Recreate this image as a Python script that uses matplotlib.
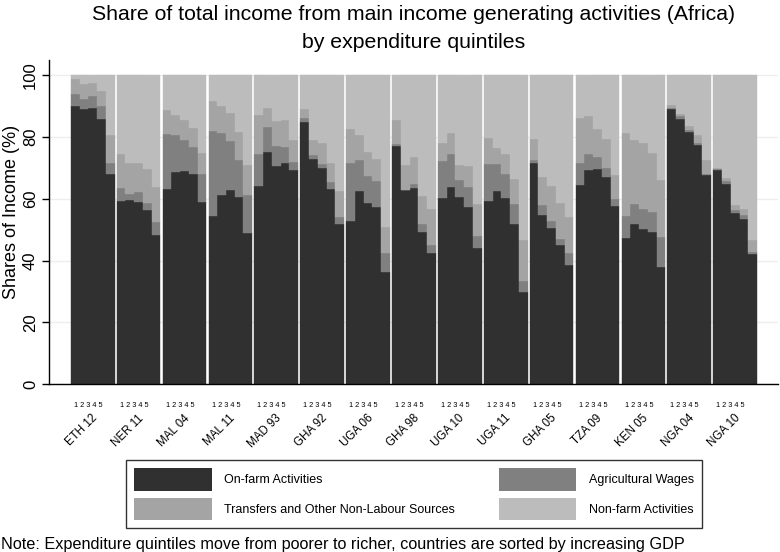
import numpy as np
import matplotlib
matplotlib.use('Agg')
import matplotlib.pyplot as plt
from matplotlib.patches import Patch
from matplotlib.transforms import blended_transform_factory

plt.rcParams['font.family'] = ['Liberation Sans', 'DejaVu Sans']

countries = ['ETH 12', 'NER 11', 'MAL 04', 'MAL 11', 'MAD 93', 'GHA 92', 'UGA 06', 'GHA 98',
             'UGA 10', 'UGA 11', 'GHA 05', 'TZA 09', 'KEN 05', 'NGA 04', 'NGA 10']
quintiles = ['1', '2', '3', '4', '5']

# shares per country, quintiles 1..5
on_farm = [
    [90.0, 89.1, 89.4, 85.9, 67.9],
    [59.3, 59.7, 58.9, 56.4, 48.4],
    [63.3, 68.6, 69.1, 68.2, 59.1],
    [54.5, 61.3, 62.8, 60.6, 48.8],
    [64.3, 75.3, 70.8, 71.5, 69.5],
    [84.9, 72.9, 69.9, 63.3, 51.8],
    [52.9, 62.5, 58.7, 57.2, 36.4],
    [77.0, 62.8, 63.5, 49.3, 42.5],
    [60.3, 63.8, 60.6, 57.2, 44.1],
    [59.3, 62.6, 60.4, 51.8, 29.9],
    [71.7, 54.9, 50.6, 45.0, 38.5],
    [64.4, 69.5, 69.8, 67.1, 57.7],
    [47.4, 51.9, 50.1, 49.3, 37.8],
    [89.0, 86.0, 81.7, 77.6, 67.6],
    [69.3, 64.9, 55.4, 53.6, 42.0],
]
ag_wages = [
    [3.9, 3.3, 3.8, 4.2, 3.6],
    [4.3, 2.0, 3.2, 2.4, 4.0],
    [17.6, 12.0, 9.9, 8.6, 8.8],
    [27.4, 20.0, 15.8, 12.1, 12.6],
    [10.3, 7.9, 6.4, 5.3, 2.6],
    [1.3, 1.3, 1.5, 2.2, 2.2],
    [18.7, 10.2, 8.6, 8.6, 6.1],
    [0.9, 0.2, 1.4, 2.4, 2.4],
    [11.9, 10.6, 5.4, 6.7, 3.8],
    [12.1, 8.8, 7.8, 6.5, 3.5],
    [1.0, 3.0, 2.2, 1.9, 3.8],
    [7.2, 5.1, 3.8, 2.9, 2.1],
    [7.0, 6.4, 6.5, 6.5, 9.9],
    [0.5, 0.7, 0.5, 0.5, 0.6],
    [0.3, 0.9, 0.9, 1.1, 0.8],
]
transfers = [
    [4.8, 4.7, 4.3, 4.7, 9.1],
    [10.8, 9.9, 9.5, 11.0, 11.5],
    [7.8, 6.5, 6.4, 6.3, 7.1],
    [9.8, 8.7, 9.2, 9.0, 9.5],
    [12.5, 6.3, 7.9, 8.6, 6.9],
    [3.0, 5.0, 6.7, 6.2, 8.6],
    [10.9, 7.9, 7.9, 7.2, 8.4],
    [7.8, 7.9, 8.7, 9.2, 11.7],
    [5.9, 6.9, 5.1, 6.7, 10.4],
    [8.4, 5.2, 6.2, 8.2, 13.2],
    [6.6, 9.2, 11.3, 11.6, 11.9],
    [14.7, 12.1, 9.1, 9.3, 7.8],
    [27.0, 20.7, 21.5, 19.1, 18.5],
    [0.8, 0.9, 1.3, 2.5, 4.3],
    [0.4, 1.1, 1.8, 2.1, 3.8],
]

on_farm = np.array(on_farm)
ag_wages = np.array(ag_wages)
transfers = np.array(transfers)
non_farm = 100 - on_farm - ag_wages - transfers

series = [
    ('On-farm Activities', on_farm, '#303030'),
    ('Agricultural Wages', ag_wages, '#808080'),
    ('Transfers and Other Non-Labour Sources', transfers, '#a4a4a4'),
    ('Non-farm Activities', non_farm, '#bcbcbc'),
]

gap = 0.25
n = len(quintiles)
step = n + gap
xs = np.array([[g * step + q for q in range(n)] for g in range(len(countries))])

fig = plt.figure(figsize=(7.8, 5.52), dpi=100)
ax = fig.add_axes([49 / 780, 1 - 384 / 552, 729 / 780, 324 / 552])

bottom = np.zeros_like(on_farm)
for name, vals, col in series:
    ax.bar(xs.ravel(), vals.ravel(), width=1.0, bottom=bottom.ravel(), color=col,
           edgecolor=col, linewidth=0.3, zorder=2)
    bottom = bottom + vals

ax.set_ylim(0, 105)
ax.set_xlim(-3.0, xs[-1, -1] + 0.5 + 2.4)
ax.set_yticks([0, 20, 40, 60, 80, 100])
ax.set_yticklabels(['0', '20', '40', '60', '80', '100'], rotation=90, va='center', fontsize=12)
ax.set_xticks([])
ax.grid(axis='y', color='#eeeeee', linewidth=1, zorder=0)
ax.tick_params(axis='y', direction='out', length=5, width=1, pad=3)
ax.set_ylabel('Shares of Income (%)', fontsize=13)
ax.yaxis.set_label_coords(-0.04, 0.53)
for s in ['top', 'right']:
    ax.spines[s].set_visible(False)
for s in ['left', 'bottom']:
    ax.spines[s].set_linewidth(1)

trans = blended_transform_factory(ax.transData, ax.transAxes)
for g, c in enumerate(countries):
    ax.text(xs[g, 0] - 0.15, -0.065, ' '.join(quintiles), transform=trans,
            ha='left', va='center', fontsize=5.3)
    ax.text(xs[g, 2] + 0.35, -0.1, c, transform=trans, ha='right', va='center',
            rotation=45, rotation_mode='anchor', fontsize=8.3)

fig.text(414 / 780, 1 - 15 / 552, 'Share of total income from main income generating activities (Africa)',
         ha='center', va='center', fontsize=15.3)
fig.text(414 / 780, 1 - 42 / 552, 'by expenditure quintiles', ha='center', va='center', fontsize=15.3)

handles = [Patch(facecolor=col, edgecolor='none') for _, _, col in series]
labels = [name for name, _, _ in series]
order = [0, 2, 1, 3]
leg = fig.legend([handles[i] for i in order], [labels[i] for i in order], ncol=2,
                 loc='upper left', bbox_to_anchor=(126 / 780, 1 - 460 / 552),
                 fontsize=9, frameon=True, fancybox=False, edgecolor='black',
                 handlelength=6.2, handleheight=2.4, handletextpad=1.0,
                 columnspacing=3.5, labelspacing=0.55, borderpad=0.65, borderaxespad=0)
leg.get_frame().set_linewidth(1)

fig.text(1 / 780, 1 - 544 / 552,
         'Note: Expenditure quintiles move from poorer to richer, countries are sorted by increasing GDP',
         ha='left', va='center', fontsize=11.7)

fig.savefig('out.png', dpi=100)
